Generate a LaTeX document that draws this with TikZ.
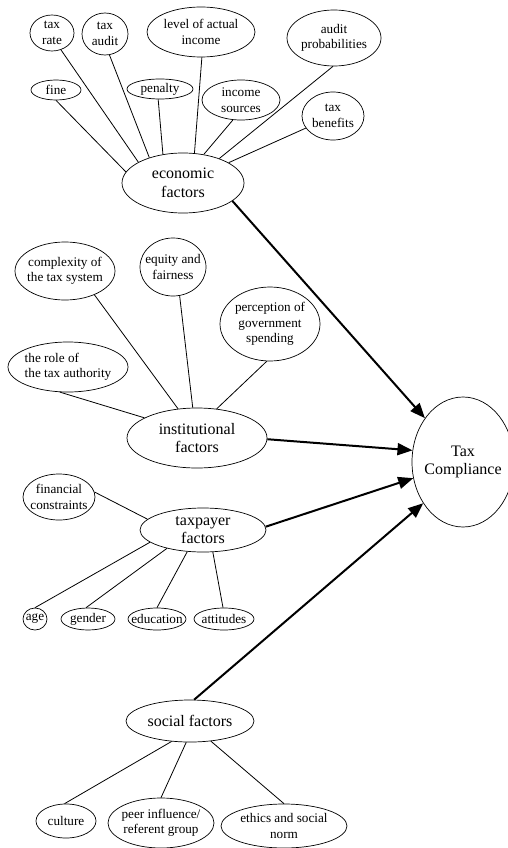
\documentclass[tikz,border=0pt]{standalone}
\usepackage{fontspec}
\setmainfont{Liberation Serif}
\usetikzlibrary{arrows.meta,shapes.geometric}
\begin{document}
\begin{tikzpicture}[x=1pt,y=-1pt,
 ell/.style 2 args={draw, ellipse, line width=0.7pt, minimum width=#1pt, minimum height=#2pt, inner sep=0pt},
 sm/.style={font=\fontsize{13.2}{15.5}\selectfont, align=center, inner sep=0pt},
 bg/.style={font=\fontsize{16}{18.5}\selectfont, align=center, inner sep=0pt},
 link/.style={line width=0.8pt},
 arr/.style={line width=2pt, -{Triangle[length=15pt,width=12pt]}}]
\useasboundingbox (0,0) rectangle (508,848);
\clip (0,0) rectangle (508,848);

% economic
\node[ell={44}{36}, label={[sm]center:{tax\\rate}}] (taxrate) at (52,33) {};
\node[ell={46}{42}, label={[sm]center:{tax\\audit}}] (taxaudit) at (105,34) {};
\node[ell={108}{50}, label={[sm]center:{level of actual\\income}}] (level) at (201,32) {};
\node[ell={94}{56}, label={[sm]center:{audit\\probabilities}}] (auditprob) at (334,38) {};
\node[ell={50}{20}, label={[sm]center:{fine}}] (fine) at (56,90) {};
\node[ell={66}{20}, label={[sm]center:{penalty}}] (penalty) at (160,89) {};
\node[ell={78}{40}, label={[sm]center:{income\\sources}}] (income) at (241,100) {};
\node[ell={62}{48}, label={[sm]center:{tax\\benefits}}] (benefits) at (333,116) {};
\node[ell={122}{60}, label={[bg]center:{economic\\factors}}] (eco) at (183,183) {};

% institutional
\node[ell={100}{58}, label={[sm]center:{complexity of\\the tax system}}] (complexity) at (65,271) {};
\node[ell={66}{58}, label={[sm]center:{equity and\\fairness}}] (equity) at (173,267) {};
\node[ell={100}{74}, label={[sm]center:{perception of\\government\\spending}}] (perception) at (270,324) {};
\node[ell={120}{50}, label={[sm,align=left]center:{the role of\\the tax authority}}] (role) at (68,367) {};
\node[ell={140}{60}, label={[bg]center:{institutional\\factors}}] (inst) at (197,438) {};

% taxpayer
\node[ell={72}{46}, label={[sm]center:{financial\\constraints}}] (financial) at (59,497) {};
\node[ell={126}{44}, label={[bg]center:{taxpayer\\factors}}] (taxpayer) at (203,530) {};
\node[ell={24}{22}, label={[sm]center:{age}}] (age) at (35,619) {};
\node[ell={54}{22}, label={[sm]center:{gender}}] (gender) at (88,619) {};
\node[ell={58}{22}, label={[sm]center:{education}}] (education) at (157,619) {};
\node[ell={60}{22}, label={[sm]center:{attitudes}}] (attitudes) at (224,619) {};

% social
\node[ell={128}{42}, label={[bg]center:{social factors}}] (social) at (190,721) {};
\node[ell={60}{34}, label={[sm]center:{culture}}] (culture) at (66,821) {};
\node[ell={106}{50}, label={[sm]center:{peer influence/\\referent group}}] (peer) at (161,823) {};
\node[ell={126}{44}, label={[sm]center:{ethics and social\\norm}}] (ethics) at (284,826) {};

% target
\node[ell={102}{130}, label={[bg]center:{Tax\\Compliance}}] (tc) at (463,462) {};

% links
\draw[link] (fine.-90) -- (eco.169);
\draw[link] (taxrate.-62) -- (eco.155);
\draw[link] (taxaudit.-78) -- (eco.143);
\draw[link] (penalty.-100) -- (eco.125);
\draw[link] (level.-88) -- (eco.69);
\draw[link] (income.-112) -- (eco.54);
\draw[link] (auditprob.-92) -- (eco.34);
\draw[link] (benefits.-156) -- (eco.24);

\draw[link] (complexity.-39) -- (inst.123);
\draw[link] (equity.-77) -- (inst.98);
\draw[link] (perception.-95) -- (inst.56);
\draw[link] (role.-108) -- (inst.159);

\draw[link] (financial.8) -- (taxpayer.169);
\draw[link] (age.90) -- (taxpayer.-167);
\draw[link] (gender.100) -- (taxpayer.-153);
\draw[link] (education.90) -- (taxpayer.-126);
\draw[link] (attitudes.95) -- (taxpayer.-66);

\draw[link] (culture.95) -- (social.-132);
\draw[link] (peer.90) -- (social.-100);
\draw[link] (ethics.90) -- (social.-44);

% arrows
\draw[arr] (eco.-20) -- (tc.131);
\draw[arr] (inst.-1) -- (tc.167);
\draw[arr] (taxpayer.3) -- (tc.-162);
\draw[arr] (social.79) -- (tc.-134);
\end{tikzpicture}
\end{document}
